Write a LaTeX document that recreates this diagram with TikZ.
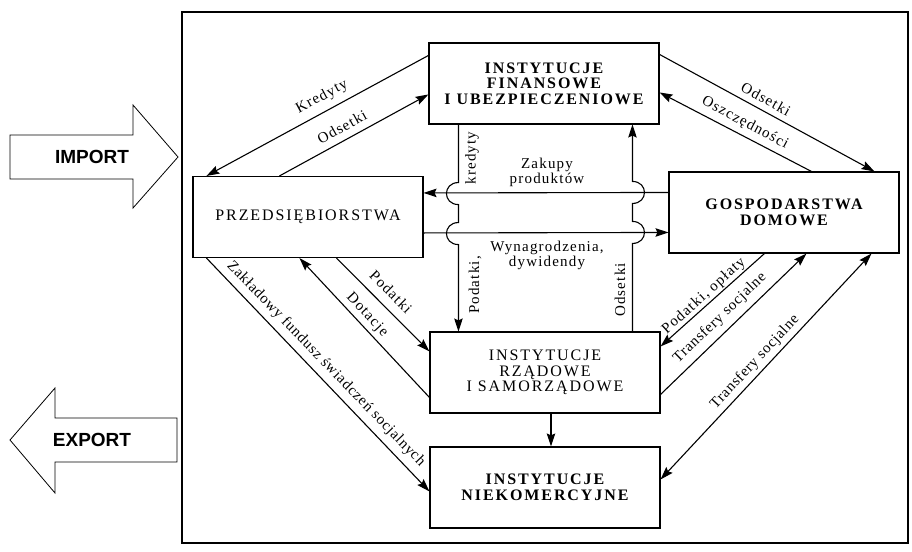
\documentclass[tikz,border=0pt]{standalone}
\usepackage{fontspec}
\setmainfont{Liberation Serif}
\newfontfamily\boxfont[LetterSpace=12]{Liberation Serif}
\newfontfamily\labfont[LetterSpace=8]{Liberation Serif}
\newfontfamily\labfontn[LetterSpace=5]{Liberation Serif}
\newfontfamily\arrfont{Liberation Sans}
\usetikzlibrary{arrows.meta,calc}
\tikzset{
  box/.style={draw, line width=1.1pt, minimum width=230pt, minimum height=81pt, align=center, inner sep=0pt, font=\boxfont\fontsize{16}{15.5}\selectfont},
  boxb/.style={box, font=\boxfont\bfseries\fontsize{16}{15.5}\selectfont},
  lab/.style={font=\labfont\fontsize{15}{15}\selectfont, inner sep=0pt, align=center},
  labn/.style={font=\labfontn\fontsize{15}{15}\selectfont, inner sep=0pt, align=center},
  conn/.style={line width=1.1pt, -{Stealth[length=13pt,width=8.5pt,inset=2pt]}},
  dconn/.style={line width=1.1pt, {Stealth[length=13pt,width=8.5pt,inset=2pt]}-{Stealth[length=13pt,width=8.5pt,inset=2pt]}},
  bigarrow/.style={draw, line width=0.8pt},
  arrtext/.style={font=\arrfont\bfseries\fontsize{19}{19}\selectfont, inner sep=0pt}
}
\begin{document}
\begin{tikzpicture}[x=1pt,y=-1pt]
\useasboundingbox (0,0) rectangle (912,551);
% frame
\draw[line width=1.1pt] (182,12) rectangle (908,543);
% import / export arrows
\draw[bigarrow] (10,135) -- (133,135) -- (133,105) -- (178,157) -- (133,208) -- (133,179) -- (10,179) -- cycle;
\node[arrtext] (imp) at (92,157) {IMPORT};
\draw[bigarrow] (177,418) -- (55,418) -- (55,388) -- (10,440) -- (55,493) -- (55,462) -- (177,462) -- cycle;
\node[arrtext] (exp) at (92,440) {EXPORT};
% boxes
\node[boxb] (F) at (544,83.5) {INSTYTUCJE\\FINANSOWE\\I UBEZPIECZENIOWE};
\node[box]  (P) at (308,217) {PRZEDSIĘBIORSTWA};
\node[boxb] (G) at (784,212.5) {GOSPODARSTWA\\DOMOWE};
\node[box]  (R) at (545,372.5) {INSTYTUCJE\\RZĄDOWE\\I SAMORZĄDOWE};
\node[boxb] (N) at (545,487.5) {INSTYTUCJE\\NIEKOMERCYJNE};
% F <-> P
\draw[conn] ($(F.north west)+(0,13)$) -- ($(P.north west)+(14,0)$);
\draw[conn] ($(P.north west)+(87,0)$) -- ($(F.north west)+(0,52)$);
\node[lab, rotate=28] (lk) at (322,97) {Kredyty};
\node[lab, rotate=29] (lo) at (342,127) {Odsetki};
% F <-> G
\draw[conn] ($(F.north east)+(0,12)$) -- ($(G.north west)+(206,0)$);
\draw[conn] ($(G.north west)+(143,0)$) -- ($(F.north east)+(0,50)$);
\node[lab, rotate=-29] (lo2) at (766,99) {Odsetki};
\node[lab, rotate=-28] (los) at (745,123) {Oszczędności};
% G <-> P horizontal
\draw[conn] ($(G.north west)+(0,21)$) -- ($(P.north east)+(0,17)$);
\draw[conn] ($(P.north east)+(0,57)$) -- ($(G.north west)+(0,61)$);
\node[lab] (lz) at (547,172) {Zakupy\\produktów};
\node[lab] (lw) at (547,255) {Wynagrodzenia,\\dywidendy};
% verticals with hops
\draw[conn] ($(F.south west)+(30,0)$) -- ++(0,58)
  .. controls +(-16,0) and +(-16,0) .. ++(0,22) -- ++(0,18)
  .. controls +(-16,0) and +(-16,0) .. ++(0,22) -- ($(R.north west)+(29,0)$);
\draw[conn] ($(R.north west)+(203,0)$) -- ++(0,-88)
  .. controls +(16,0) and +(16,0) .. ++(0,-22) -- ++(0,-18)
  .. controls +(16,0) and +(16,0) .. ++(0,-22) -- ($(F.south west)+(204,0)$);
\node[lab, rotate=90] (lkr) at (472,158) {kredyty};
\node[lab, rotate=90] (lpd) at (475,285) {Podatki,};
\node[lab, rotate=90] (lod) at (620,290) {Odsetki};
% P <-> R
\draw[conn] ($(P.south west)+(144,0)$) -- ($(R.north west)+(0,20)$);
\draw[conn] ($(R.north west)+(0,66)$) -- ($(P.south west)+(107,0)$);
\node[lab, rotate=-45] (lp) at (391,292) {Podatki};
\node[lab, rotate=-47] (ld) at (367,315) {Dotacje};
% P -> N
\draw[conn] ($(P.south west)+(14,0)$) -- ($(N.north west)+(0,45)$);
\node[labn, rotate=-46] (lzf) at (326,364) {Zakładowy fundusz świadczeń socjalnych};
% R -> N
\draw[conn] ($(R.south)+(6,0)$) -- ($(N.north)+(6,0)$);
% G <-> R
\draw[conn] ($(G.south west)+(96,0)$) -- ($(R.north east)+(0,15)$);
\draw[conn] ($(R.north east)+(0,63)$) -- ($(G.south west)+(138,0)$);
\node[lab, rotate=42] (lpo) at (704,296) {Podatki, opłaty};
\node[labn, rotate=44] (lt1) at (720,318) {Transfery socjalne};
% G <-> N
\draw[dconn] ($(N.north east)+(0,33)$) -- ($(G.south west)+(203,0)$);
\node[labn, rotate=47] (lt2) at (755,362) {Transfery socjalne};
\end{tikzpicture}
\end{document}
